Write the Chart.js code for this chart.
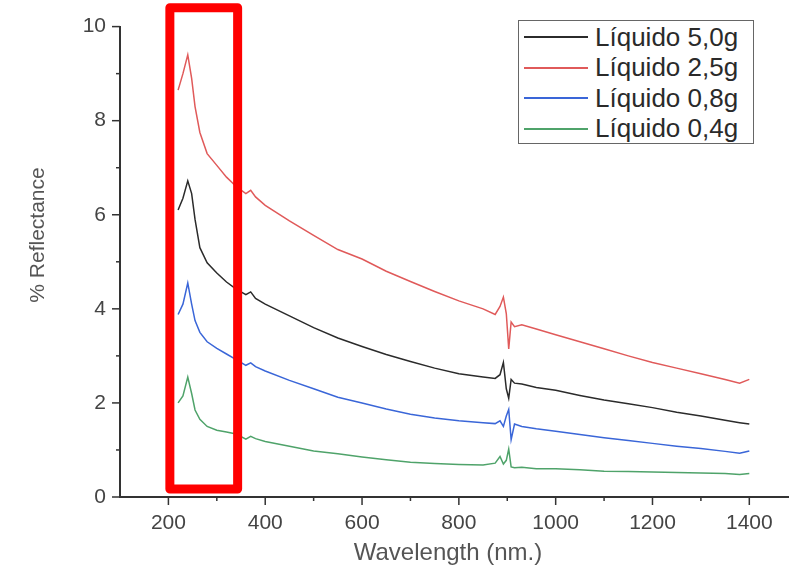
<!DOCTYPE html>
<html>
<head>
<meta charset="utf-8">
<script src="https://cdn.jsdelivr.net/npm/chart.js@4.4.0/dist/chart.umd.min.js"></script>
<style>
  body { margin: 0; background: #fff; }
  #wrap { position: relative; width: 789px; height: 574px; }
  #legend {
    position: absolute; left: 518px; top: 20px; width: 236px; height: 124px;
    border: 1.5px solid #666; box-sizing: border-box; background: #fff;
    font-family: 'Liberation Sans', Arial, sans-serif; font-size: 26px; color: #2a2a2a;
  }
  .row { position: absolute; left: 5px; height: 30px; display: flex; align-items: center; white-space: nowrap; }
  .swatch { width: 64px; height: 0; border-top: 2px solid; margin-right: 7px; }
</style>
</head>
<body>
<div id="wrap">
  <canvas id="chart" width="789" height="574"></canvas>
  <div id="legend"></div>
</div>
<script>
// wavelengths (nm) shared by all four spectra
const wavelengths = [220, 230, 240, 248, 255, 265, 280, 300, 320, 340, 360, 370, 380, 400, 450,
  500, 550, 600, 650, 700, 750, 800, 850, 875, 885, 892, 898, 903, 908, 915, 930, 960, 1000,
  1050, 1100, 1150, 1200, 1250, 1300, 1350, 1380, 1400];

const liquido50 = [6.1, 6.35, 6.72, 6.45, 5.9, 5.3, 4.98, 4.76, 4.57, 4.42, 4.3, 4.36, 4.22, 4.1, 3.85,
  3.6, 3.38, 3.2, 3.03, 2.88, 2.74, 2.62, 2.55, 2.52, 2.6, 2.86, 2.3, 2.1, 2.5, 2.42, 2.4, 2.33, 2.27,
  2.16, 2.06, 1.98, 1.9, 1.8, 1.72, 1.63, 1.58, 1.55];
const liquido25 = [8.65, 9.0, 9.4, 8.9, 8.3, 7.75, 7.3, 7.05, 6.8, 6.6, 6.45, 6.52, 6.38, 6.2, 5.87,
  5.56, 5.26, 5.06, 4.8, 4.58, 4.37, 4.17, 4.0, 3.88, 4.05, 4.25, 3.9, 3.15, 3.72, 3.62, 3.66, 3.57, 3.45,
  3.3, 3.15, 3.0, 2.86, 2.74, 2.62, 2.5, 2.42, 2.5];
const liquido08 = [3.88, 4.1, 4.55, 4.1, 3.75, 3.5, 3.3, 3.16, 3.04, 2.92, 2.8, 2.85, 2.77, 2.68, 2.48,
  2.3, 2.12, 2.0, 1.87, 1.76, 1.68, 1.62, 1.58, 1.56, 1.62, 1.5, 1.72, 1.86, 1.22, 1.55, 1.5, 1.45, 1.4,
  1.33, 1.26, 1.2, 1.14, 1.08, 1.03, 0.97, 0.93, 0.98];
const liquido04 = [2.0, 2.15, 2.55, 2.2, 1.85, 1.65, 1.5, 1.42, 1.38, 1.34, 1.23, 1.29, 1.24, 1.18, 1.08,
  0.98, 0.92, 0.85, 0.79, 0.74, 0.71, 0.69, 0.68, 0.72, 0.86, 0.7, 0.78, 1.02, 0.64, 0.62, 0.63, 0.6, 0.6,
  0.58, 0.55, 0.54, 0.53, 0.52, 0.51, 0.5, 0.48, 0.5];

const seriesNames = ['Líquido 5,0g', 'Líquido 2,5g', 'Líquido 0,8g', 'Líquido 0,4g'];
const seriesValues = [liquido50, liquido25, liquido08, liquido04];
const seriesColors = ['#2b2b2b', '#e05a5a', '#3a66d8', '#4fa36a'];

const xMajorTicks = [200, 400, 600, 800, 1000, 1200, 1400];
const xMinorTicks = [300, 500, 700, 900, 1100, 1300];
const yMajorTicks = [0, 2, 4, 6, 8, 10];
const yMinorTicks = [1, 3, 5, 7, 9];

// red highlight box around the UV peak (data units)
const boxNm = [203, 343];
const boxY = [0.17, 10.4];

const decor = {
  id: 'decor',
  afterDatasetsDraw(chart) {
    const { ctx, scales: { x, y } } = chart;
    ctx.save();
    // tick marks
    ctx.strokeStyle = '#333';
    ctx.lineWidth = 1.5;
    const yb = y.getPixelForValue(0), xl = x.getPixelForValue(100);
    const tick = (v, len, axis) => {
      ctx.beginPath();
      if (axis === 'x') { const p = x.getPixelForValue(v); ctx.moveTo(p, yb); ctx.lineTo(p, yb + len); }
      else { const p = y.getPixelForValue(v); ctx.moveTo(xl, p); ctx.lineTo(xl - len, p); }
      ctx.stroke();
    };
    xMajorTicks.forEach(v => tick(v, 8, 'x'));
    xMinorTicks.forEach(v => tick(v, 4, 'x'));
    yMajorTicks.forEach(v => tick(v, 8, 'y'));
    yMinorTicks.forEach(v => tick(v, 4, 'y'));

    // red box
    ctx.strokeStyle = '#ff0000';
    ctx.lineWidth = 9;
    ctx.lineJoin = 'round';
    const bx0 = x.getPixelForValue(boxNm[0]), bx1 = x.getPixelForValue(boxNm[1]);
    const by0 = y.getPixelForValue(boxY[1]), by1 = y.getPixelForValue(boxY[0]);
    ctx.strokeRect(bx0, by0, bx1 - bx0, by1 - by0);

    // axis titles
    ctx.fillStyle = '#555';
    ctx.font = '24px "Liberation Sans", Arial, sans-serif';
    ctx.textAlign = 'center';
    ctx.textBaseline = 'middle';
    ctx.fillText('Wavelength (nm.)', 448, 553);
    ctx.translate(38, 235);
    ctx.rotate(-Math.PI / 2);
    ctx.font = '21px "Liberation Sans", Arial, sans-serif';
    ctx.fillText('% Reflectance', 0, 0);
    ctx.restore();
  }
};

const datasets = seriesNames.map((name, i) => ({
  label: name,
  data: wavelengths.map((w, j) => ({ x: w, y: seriesValues[i][j] })),
  borderColor: seriesColors[i],
  borderWidth: 1.5,
  pointRadius: 0,
  tension: 0,
  fill: false
}));

new Chart(document.getElementById('chart').getContext('2d'), {
  type: 'line',
  data: { datasets },
  plugins: [decor],
  options: {
    responsive: false,
    animation: false,
    devicePixelRatio: 1,
    layout: { padding: { top: 24, right: 0, left: 0, bottom: 0 } },
    plugins: { legend: { display: false }, tooltip: { enabled: false } },
    scales: {
      x: {
        type: 'linear',
        min: 100,
        max: 1482,
        afterFit: s => { s.height = 77; },
        grid: { display: false, drawTicks: false },
        border: { display: true, color: '#333', width: 2 },
        ticks: {
          stepSize: 100,
          includeBounds: false,
          autoSkip: false,
          padding: 14,
          color: '#444',
          font: { size: 21, family: '"Liberation Sans", Arial, sans-serif' },
          maxRotation: 0,
          callback: v => xMajorTicks.includes(v) ? String(v) : ''
        }
      },
      y: {
        min: 0,
        max: 10,
        afterFit: s => { s.width = 120; },
        grid: { display: false, drawTicks: false },
        border: { display: true, color: '#333', width: 2 },
        ticks: {
          stepSize: 2,
          padding: 14,
          color: '#444',
          font: { size: 21, family: '"Liberation Sans", Arial, sans-serif' },
          callback: v => yMajorTicks.includes(v) ? String(v) : ''
        }
      }
    }
  }
});

// legend
const legend = document.getElementById('legend');
seriesNames.forEach((name, i) => {
  const row = document.createElement('div');
  row.className = 'row';
  row.style.top = (1 + i * 30.5) + 'px';
  row.innerHTML = '<span class="swatch" style="border-color:' + seriesColors[i] + '"></span>' + name;
  legend.appendChild(row);
});
</script>
</body>
</html>
